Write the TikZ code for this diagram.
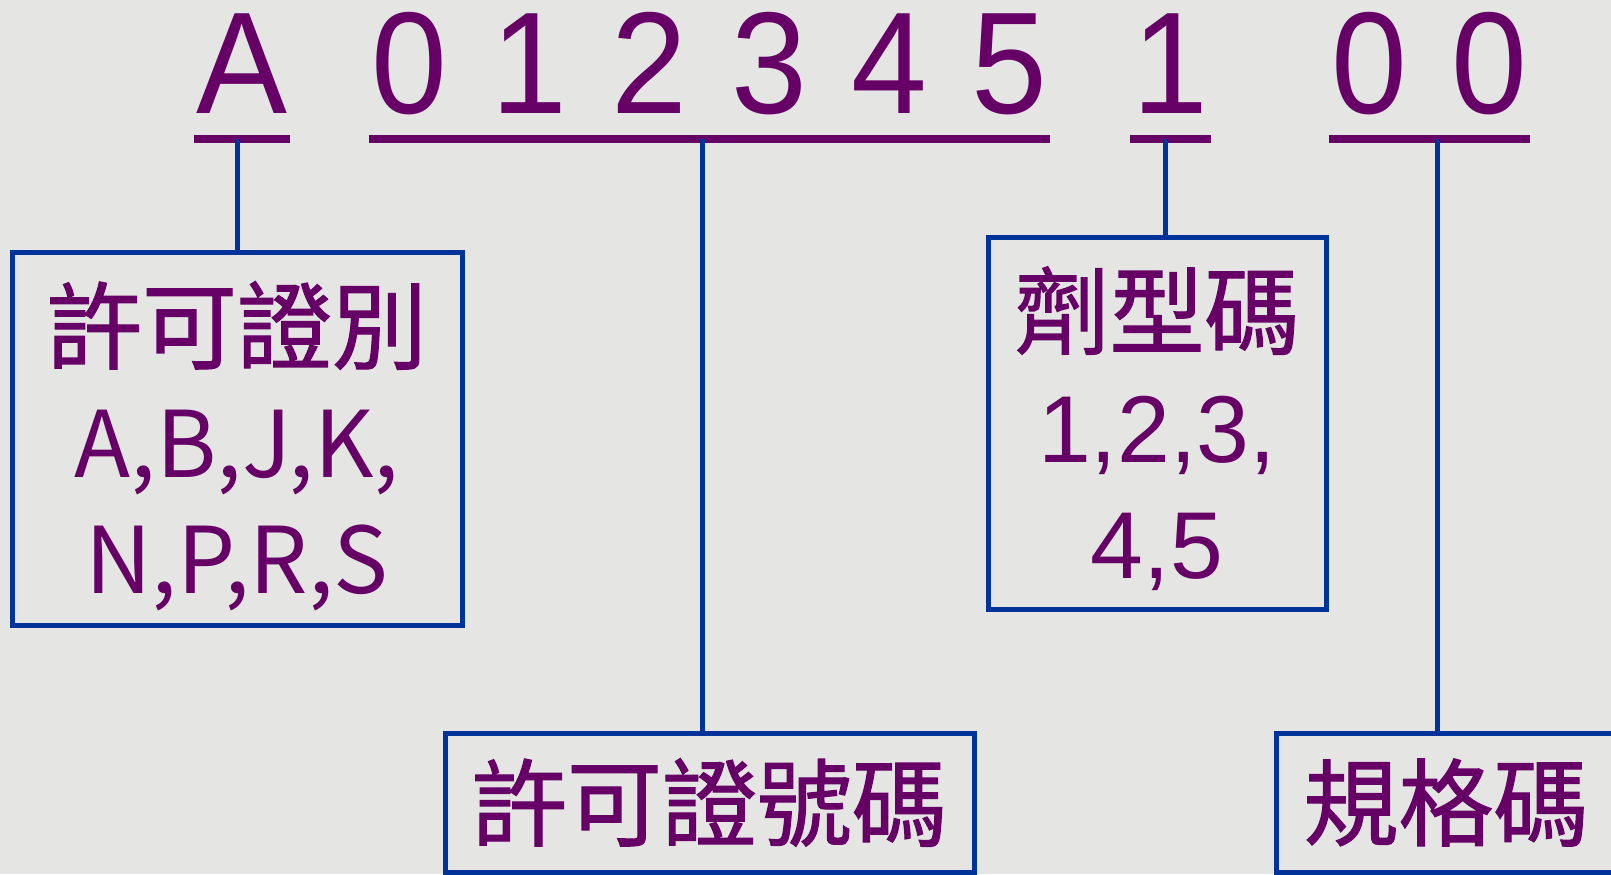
\documentclass[tikz,border=0pt]{standalone}
\usepackage{fontspec}
\setmainfont{Liberation Sans}
\newfontfamily\codefont[FakeStretch=0.94,WordSpace=1.17]{Liberation Sans}
\newfontfamily\cjkfont[FakeBold=1.2]{Noto Sans CJK TC}
\newfontfamily\latinfont{Noto Sans CJK TC}
\definecolor{codepurple}{RGB}{102,0,102}
\definecolor{linkblue}{RGB}{0,51,153}
\definecolor{paper}{RGB}{229,229,227}
\begin{document}
\begin{tikzpicture}[x=0.5pt,y=-0.5pt,
    digits/.style={inner sep=0pt,anchor=base west,text=codepurple,
      font=\codefont\fontsize{72.5}{86}\selectfont},
    uline/.style={codepurple,line width=4pt},
    link/.style={linkblue,line width=2.5pt},
    field/.style={draw=linkblue,line width=2.5pt,text=codepurple,
      inner sep=0pt,align=center,font=\fontsize{47.5}{58}\selectfont}]
    \fill[paper] (0,0) rectangle (1611,874);
    \useasboundingbox (0,0) rectangle (1611,874);
    % the code and its groups
    \node[digits] (gA) at (196,113) {A};
    \node[digits] (gNum) at (371,113) {0 1 2 3 4 5};
    \node[digits] (gForm) at (1132,113) {1};
    \node[digits] (gSpec) at (1331,113) {0 0};
    \foreach \g in {gA,gNum,gForm,gSpec}
      \draw[uline] ([yshift=-13pt,xshift=-1pt]\g.base west)
        -- ([yshift=-13pt,xshift=1pt]\g.base east);
    % boxes
    \node[field,minimum width=225pt,minimum height=186.5pt] (bLetter) at (237,438.5)
      {\cjkfont\rule{0pt}{48pt}許可證別\\
       \latinfont\fontsize{46}{58}\selectfont A,B,J,K,\\
       \latinfont\fontsize{46}{58}\selectfont N,P,R,S};
    \node[field,minimum width=169pt,minimum height=186pt] (bForm) at (1157,423)
      {\cjkfont\rule{0pt}{46pt}劑型碼\\1,2,3,\\4,5};
    \node[field,minimum width=264.5pt,minimum height=69.5pt] (bNum) at (709.5,802.5)
      {\cjkfont 許可證號碼};
    \node[field,minimum width=170pt,minimum height=69.5pt] (bSpec) at (1446,802.5)
      {\cjkfont 規格碼};
    % connectors
    \coordinate (uA) at (237,139);
    \coordinate (uNum) at (702,139);
    \coordinate (uForm) at (1165,139);
    \coordinate (uSpec) at (1437,139);
    \draw[link] (uA) -- (uA |- bLetter.north);
    \draw[link] (uNum) -- (uNum |- bNum.north);
    \draw[link] (uForm) -- (uForm |- bForm.north);
    \draw[link] (uSpec) -- (uSpec |- bSpec.north);
\end{tikzpicture}
\end{document}
